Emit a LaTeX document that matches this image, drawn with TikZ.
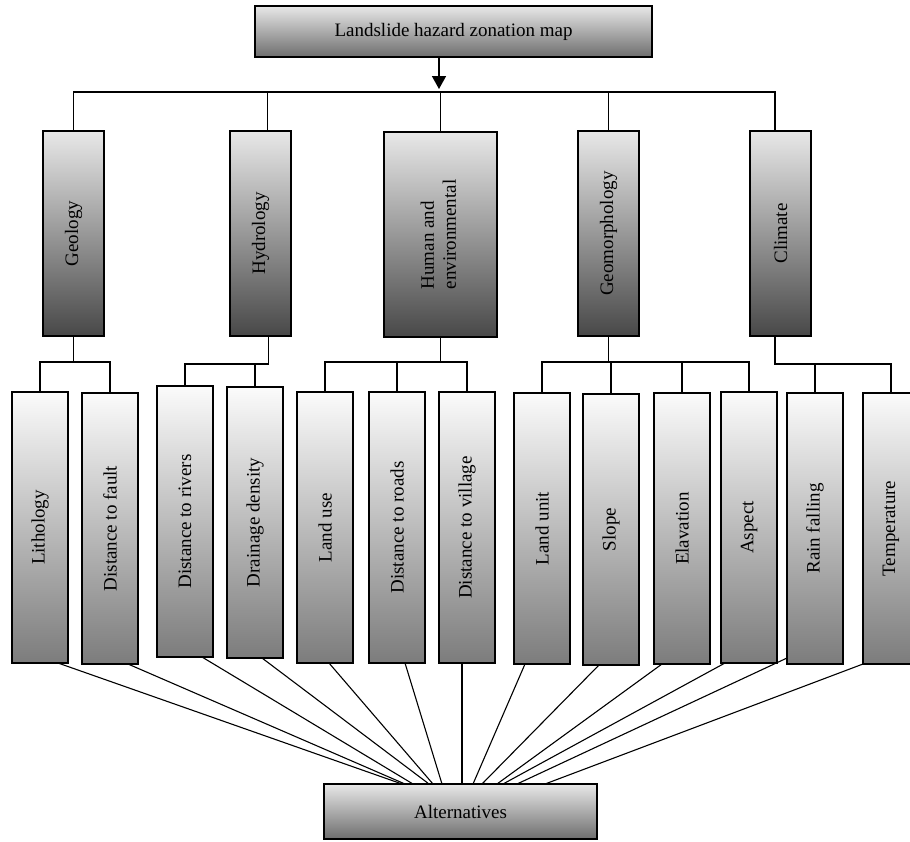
\documentclass[tikz,border=0pt]{standalone}
\usepackage{fontspec}
\setmainfont{Liberation Serif}
\usepackage{graphicx}
\usetikzlibrary{arrows.meta}
\definecolor{cattop}{HTML}{E8E8E8}
\definecolor{catbot}{HTML}{484848}
\definecolor{leaftop}{HTML}{FBFBFB}
\definecolor{leafbot}{HTML}{7C7C7C}
\definecolor{headtop}{HTML}{E8E8E8}
\definecolor{headbot}{HTML}{6E6E6E}
\begin{document}
\begin{tikzpicture}[x=1pt,y=1pt,
  base/.style={draw=black, line width=1.5pt, inner sep=0pt, outer sep=0pt, anchor=north west,
    font=\fontsize{19}{22}\selectfont, align=center},
  headbox/.style={base, top color=headtop, bottom color=headbot},
  catbox/.style={base, top color=cattop, bottom color=catbot, minimum width=61pt, minimum height=205pt},
  leafbox/.style={base, top color=leaftop, bottom color=leafbot, minimum width=56pt, minimum height=271pt},
  wire/.style={draw=black, line width=1.6pt},
  fan/.style={draw=black, line width=1.1pt}]
\useasboundingbox (0,0) rectangle (910,-841);

% top and bottom boxes
\node[headbox, minimum width=397pt, minimum height=51pt] (top) at (255,-6) {Landslide hazard zonation map};
\node[headbox, minimum width=273pt, minimum height=55pt] (alt) at (324,-784) {Alternatives};

% categories
\node[catbox] (geo) at (43,-131) {\rotatebox{90}{Geology}};
\node[catbox] (hyd) at (230,-131) {\rotatebox{90}{Hydrology}};
\node[catbox, minimum width=113pt] (hum) at (384,-132) {\rotatebox{90}{\begin{tabular}{@{}l@{}}Human and\\environmental\end{tabular}}};
\node[catbox] (gmo) at (578,-131) {\rotatebox{90}{Geomorphology}};
\node[catbox] (cli) at (750,-131) {\rotatebox{90}{Climate}};

% leaves
\node[leafbox] (lith)  at (12,-392)  {\rotatebox{90}{Lithology}};
\node[leafbox] (fault) at (82,-393)  {\rotatebox{90}{Distance to fault}};
\node[leafbox] (riv)   at (157,-386) {\rotatebox{90}{Distance to rivers}};
\node[leafbox] (drain) at (227,-387) {\rotatebox{90}{Drainage density}};
\node[leafbox] (luse)  at (297,-392) {\rotatebox{90}{Land use}};
\node[leafbox] (road)  at (369,-392) {\rotatebox{90}{Distance to roads}};
\node[leafbox] (vil)   at (439,-392) {\rotatebox{90}{Distance to village}};
\node[leafbox] (lunit) at (514,-393) {\rotatebox{90}{Land unit}};
\node[leafbox] (slope) at (583,-394) {\rotatebox{90}{Slope}};
\node[leafbox] (elev)  at (654,-393) {\rotatebox{90}{Elavation}};
\node[leafbox] (asp)   at (721,-392) {\rotatebox{90}{Aspect}};
\node[leafbox] (rain)  at (787,-393) {\rotatebox{90}{Rain falling}};
\node[leafbox] (temp)  at (863,-393) {\rotatebox{90}{Temperature}};

% helper coordinates
\coordinate (bar) at (439,-92);
\coordinate (arrowtip) at (439,-89);
\coordinate (gy1) at (0,-362);
\coordinate (gy2) at (0,-364);

% arrow from top
\draw[wire, -{Triangle[width=14pt,length=13pt]}] (top.south -| arrowtip) -- (arrowtip);

% main bar
\draw[wire] (geo.north) |- ([xshift=-5.5pt]cli.north |- bar) -- ([xshift=-5.5pt]cli.north);
\draw[wire] ([xshift=7pt]hyd.north) -- ([xshift=7pt]hyd.north |- bar);
\draw[wire] (hum.north) -- (hum.north |- bar);
\draw[wire] (gmo.north) -- (gmo.north |- bar);

% geology group
\draw[wire] (geo.south) -- (geo.south |- gy1);
\draw[wire] (lith.north) |- (fault.north |- gy1) -- (fault.north);
% hydrology group
\draw[wire] ([xshift=8pt]hyd.south) -- ([xshift=8pt]hyd.south |- gy2) -- (riv.north |- gy2) -- (riv.north);
\draw[wire] (drain.north) -- (drain.north |- gy2);
% human group
\draw[wire] (hum.south) -- (hum.south |- gy1);
\draw[wire] (luse.north) |- (vil.north |- gy1) -- (vil.north);
\draw[wire] (road.north) -- (road.north |- gy1);
% geomorphology group
\draw[wire] (gmo.south) -- (gmo.south |- gy1);
\draw[wire] (lunit.north) |- (asp.north |- gy1) -- (asp.north);
\draw[wire] (slope.north) -- (slope.north |- gy1);
\draw[wire] (elev.north) -- (elev.north |- gy1);
% climate group
\draw[wire] ([xshift=-5.5pt]cli.south) -- ([xshift=-5.5pt]cli.south |- gy2) -| (temp.north);
\draw[wire] (rain.north) -- (rain.north |- gy2);

% fan to alternatives
\draw[fan] ([xshift=46pt]lith.south west)  -- ([xshift=78pt]alt.north west);
\draw[fan] ([xshift=46pt]fault.south west) -- ([xshift=81pt]alt.north west);
\draw[fan] ([xshift=45pt]riv.south west)   -- ([xshift=89pt]alt.north west);
\draw[fan] ([xshift=35pt]drain.south west) -- ([xshift=105pt]alt.north west);
\draw[fan] ([xshift=32pt]luse.south west)  -- ([xshift=109pt]alt.north west);
\draw[fan] ([xshift=36pt]road.south west)  -- ([xshift=118pt]alt.north west);
\draw[fan] ([xshift=23pt]vil.south west)   -- ([xshift=138pt]alt.north west);
\draw[fan] ([xshift=11pt]lunit.south west) -- ([xshift=149pt]alt.north west);
\draw[fan] ([xshift=16pt]slope.south west) -- ([xshift=158pt]alt.north west);
\draw[fan] ([xshift=8pt]elev.south west)   -- ([xshift=173pt]alt.north west);
\draw[fan] ([xshift=4pt]asp.south west)    -- ([xshift=179pt]alt.north west);
\draw[fan] ([yshift=6pt]rain.south west)   -- ([xshift=193pt]alt.north west);
\draw[fan] (temp.south west)               -- ([xshift=221pt]alt.north west);
\end{tikzpicture}
\end{document}
